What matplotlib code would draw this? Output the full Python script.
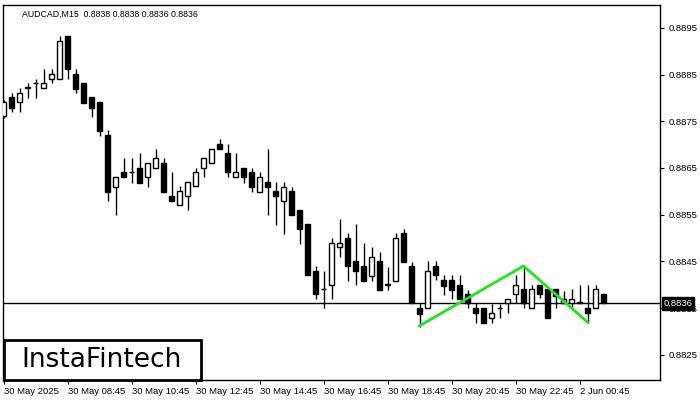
import matplotlib
matplotlib.use('Agg')
import matplotlib.pyplot as plt
from matplotlib.patches import Rectangle

plt.rcParams['font.family'] = ['Liberation Sans', 'DejaVu Sans']

# ─── data (AUDCAD M15) ───────────────────────────────
opens = [0.88762, 0.88802, 0.88792, 0.88822, 0.88832, 0.88822, 0.88841, 0.88841,
         0.88933, 0.88852, 0.88832, 0.88802, 0.88792, 0.88721, 0.88610, 0.88642,
         0.88642, 0.88650, 0.88631, 0.88650, 0.88661, 0.88590, 0.88571, 0.88590,
         0.88612, 0.88650, 0.88661, 0.88702, 0.88683, 0.88631, 0.88650, 0.88642,
         0.88599, 0.88620, 0.88601, 0.88580, 0.88601, 0.88560, 0.88530, 0.88430,
         0.88391, 0.88400, 0.88481, 0.88500, 0.88451, 0.88440, 0.88419, 0.88451,
         0.88400, 0.88408, 0.88511, 0.88440, 0.88350, 0.88350, 0.88440, 0.88410,
         0.88410, 0.88400, 0.88380, 0.88350, 0.88350, 0.88329, 0.88350, 0.88361,
         0.88380, 0.88391, 0.88350, 0.88400, 0.88391, 0.88391, 0.88361, 0.88361,
         0.88361, 0.88350, 0.88350, 0.88380]
highs = [0.88796, 0.88811, 0.88822, 0.88832, 0.88841, 0.88862, 0.88862, 0.88933,
         0.88933, 0.88862, 0.88832, 0.88802, 0.88792, 0.88732, 0.88631, 0.88672,
         0.88672, 0.88683, 0.88661, 0.88691, 0.88672, 0.88642, 0.88612, 0.88620,
         0.88650, 0.88672, 0.88691, 0.88712, 0.88702, 0.88683, 0.88650, 0.88650,
         0.88642, 0.88691, 0.88620, 0.88620, 0.88610, 0.88560, 0.88530, 0.88440,
         0.88430, 0.88500, 0.88541, 0.88511, 0.88530, 0.88490, 0.88481, 0.88470,
         0.88438, 0.88511, 0.88520, 0.88449, 0.88361, 0.88451, 0.88451, 0.88421,
         0.88421, 0.88421, 0.88389, 0.88361, 0.88350, 0.88359, 0.88359, 0.88370,
         0.88421, 0.88440, 0.88400, 0.88400, 0.88391, 0.88391, 0.88387, 0.88391,
         0.88400, 0.88400, 0.88400, 0.88380]
lows = [0.88757, 0.88770, 0.88770, 0.88800, 0.88800, 0.88822, 0.88832, 0.88841,
        0.88841, 0.88811, 0.88789, 0.88759, 0.88719, 0.88580, 0.88550, 0.88631,
        0.88618, 0.88618, 0.88610, 0.88650, 0.88599, 0.88580, 0.88571, 0.88560,
        0.88612, 0.88631, 0.88661, 0.88691, 0.88631, 0.88631, 0.88618, 0.88599,
        0.88599, 0.88550, 0.88528, 0.88509, 0.88550, 0.88488, 0.88421, 0.88370,
        0.88350, 0.88370, 0.88460, 0.88408, 0.88400, 0.88408, 0.88408, 0.88389,
        0.88389, 0.88408, 0.88449, 0.88361, 0.88310, 0.88350, 0.88410, 0.88378,
        0.88370, 0.88370, 0.88350, 0.88318, 0.88318, 0.88318, 0.88329, 0.88340,
        0.88361, 0.88350, 0.88350, 0.88372, 0.88329, 0.88350, 0.88361, 0.88350,
        0.88361, 0.88318, 0.88350, 0.88360]
closes = [0.88792, 0.88779, 0.88811, 0.88823, 0.88833, 0.88832, 0.88852, 0.88922,
          0.88862, 0.88819, 0.88789, 0.88779, 0.88729, 0.88599, 0.88631, 0.88631,
          0.88642, 0.88618, 0.88661, 0.88672, 0.88599, 0.88580, 0.88601, 0.88620,
          0.88642, 0.88672, 0.88691, 0.88691, 0.88642, 0.88642, 0.88631, 0.88610,
          0.88631, 0.88610, 0.88590, 0.88610, 0.88550, 0.88520, 0.88421, 0.88380,
          0.88390, 0.88490, 0.88490, 0.88440, 0.88430, 0.88408, 0.88460, 0.88389,
          0.88401, 0.88500, 0.88449, 0.88361, 0.88338, 0.88430, 0.88421, 0.88398,
          0.88389, 0.88370, 0.88361, 0.88340, 0.88318, 0.88340, 0.88351, 0.88370,
          0.88400, 0.88361, 0.88391, 0.88380, 0.88329, 0.88376, 0.88370, 0.88370,
          0.88362, 0.88340, 0.88391, 0.88360]

# double top pattern (bar index, price)
pattern_x = [52, 65, 73]
pattern_y = [0.88312, 0.88440, 0.88320]

last_price = 0.8836
y_ticks = [0.8825, 0.8835, 0.8845, 0.8855, 0.8865, 0.8875, 0.8885, 0.8895]
x_tick_pos = [0, 8, 16, 24, 32, 40, 48, 56, 64, 72]
x_tick_labels = ['30 May 2025', '30 May 08:45', '30 May 10:45', '30 May 12:45',
                 '30 May 14:45', '30 May 16:45', '30 May 18:45', '30 May 20:45',
                 '30 May 22:45', '2 Jun 00:45']
title = 'AUDCAD,M15  0.8838 0.8838 0.8836 0.8836'

# ─── figure ─────────────────────────────────────────
fig = plt.figure(figsize=(7, 4), dpi=100)
fig.patch.set_facecolor('white')
ax = fig.add_axes([3 / 700, 20 / 400, 657 / 700, 375 / 400])
ax.set_facecolor('white')

n = len(opens)
xs = list(range(n))

# wicks
ax.vlines(xs, lows, highs, color='black', linewidth=1, zorder=2)

# bodies (white = up, black = down)
for i in xs:
    o, c = opens[i], closes[i]
    bottom = min(o, c)
    height = max(abs(c - o), 0.000001)
    fc = 'white' if c >= o else 'black'
    ax.add_patch(Rectangle((i - 0.28, bottom), 0.56, height, facecolor=fc,
                           edgecolor='black', linewidth=1, zorder=3))

# current price line
ax.axhline(last_price, color='black', linewidth=1, zorder=1)

# pattern lines
ax.plot(pattern_x, pattern_y, color='#22e022', linewidth=2, zorder=4)

ax.set_xlim(-0.0625, 82.06)
ax.set_ylim(0.88196, 0.88999)

for s in ax.spines.values():
    s.set_color('black')
    s.set_linewidth(1)
ax.yaxis.tick_right()
ax.set_yticks(y_ticks)
ax.set_yticklabels([f'{v:.4f}' for v in y_ticks])
ax.tick_params(axis='y', direction='out', length=3, width=0.8, labelsize=6.8, pad=3,
               colors='black')
ax.set_xticks(x_tick_pos)
ax.set_xticklabels(x_tick_labels, ha='left')
ax.tick_params(axis='x', direction='out', length=3, width=0.8, labelsize=6.8, pad=2,
               colors='black')

# price label on the axis
ax.annotate(f'{last_price:.4f}', xy=(1.0, last_price),
            xycoords=('axes fraction', 'data'), xytext=(2.5, 0),
            textcoords='offset points', ha='left', va='center',
            fontsize=6.8, color='white', zorder=10,
            bbox=dict(boxstyle='square,pad=0.2', facecolor='black', edgecolor='black'))

# title
ax.text(19 / 657, 1 - 5 / 375, title, transform=ax.transAxes, ha='left', va='top',
        fontsize=6.3, color='black')

# logo box
fig.patches.append(Rectangle((4 / 700, 20 / 400), 197 / 700, 40 / 400,
                             transform=fig.transFigure, facecolor='white',
                             edgecolor='black', linewidth=2, zorder=5))
fig.text(102 / 700, 1 - 360 / 400, 'InstaFintech', ha='center', va='center',
         fontsize=19, color='black', zorder=6, family=['DejaVu Sans'])

plt.savefig('out.png', dpi=100, facecolor='white')
plt.close()
